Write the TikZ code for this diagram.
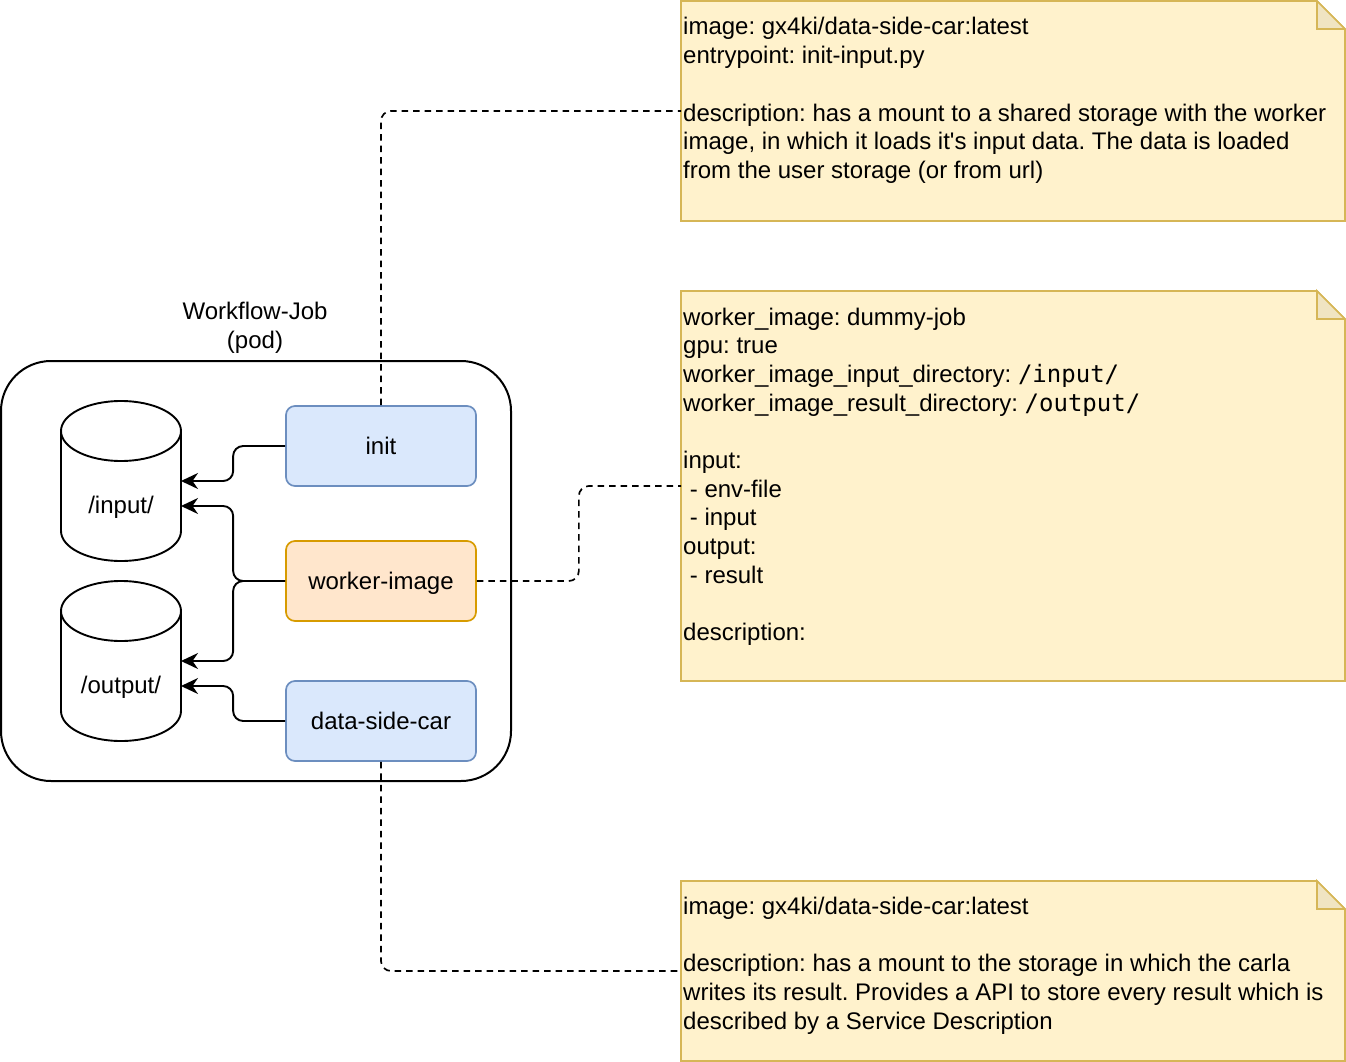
\documentclass[tikz,border=0pt]{standalone}
\usepackage{fontspec}
\setmainfont{Liberation Sans}[Ligatures=TeXOff]
\newfontfamily\codefont{DejaVu Sans Mono}
\usetikzlibrary{arrows.meta,calc}
\frenchspacing

\definecolor{blueFill}{HTML}{DAE8FC}
\definecolor{blueLine}{HTML}{6C8EBF}
\definecolor{orangeFill}{HTML}{FFE6CC}
\definecolor{orangeLine}{HTML}{D79B00}
\definecolor{noteFill}{HTML}{FFF2CC}
\definecolor{noteLine}{HTML}{D6B656}
\definecolor{noteFold}{HTML}{F0E4C2}

\tikzset{
  container/.style={draw, line width=2pt, rounded corners=50pt,
    minimum width=510pt, minimum height=420pt, inner sep=0pt},
  proc/.style={draw, line width=1.7pt, rounded corners=9pt,
    minimum width=190pt, minimum height=80pt,
    text height=22pt, text depth=6pt},
  procblue/.style={proc, fill=blueFill, draw=blueLine},
  procorange/.style={proc, fill=orangeFill, draw=orangeLine},
  area/.style={inner sep=0pt, outer sep=0pt},
  dbline/.style={draw, line width=1.9pt, fill=white},
  lbl/.style={inner sep=0pt, text height=22pt, text depth=6pt},
  notebody/.style={fill=noteFill, draw=noteLine, line width=1.7pt, line join=miter},
  notefold/.style={fill=noteFold, draw=noteLine, line width=1.7pt},
  notetext/.style={anchor=base west, inner sep=0pt},
  mount/.style={line width=1.9pt, rounded corners=10pt,
    -{Stealth[length=17pt, width=16pt, inset=5.5pt]}},
  link/.style={line width=1.7pt, rounded corners=10pt,
    dash pattern=on 6.5pt off 5pt}
}

% draws a folded note over the area of a named node
\newcommand{\drawnote}[1]{%
  \path[notebody] (#1.north west) -- ($(#1.north east)+(-28pt,0pt)$)
    -- ($(#1.north east)+(0pt,-28pt)$) -- (#1.south east)
    -- (#1.south west) -- cycle;
  \path[notefold] ($(#1.north east)+(-28pt,0pt)$)
    -- ($(#1.north east)+(-28pt,-28pt)$)
    -- ($(#1.north east)+(0pt,-28pt)$) -- cycle;
}

\begin{document}
\begin{tikzpicture}[x=1pt, y=-1pt, font=\fontsize{24}{28.7}\selectfont]
  \useasboundingbox (0,0) rectangle (1346,1062);

  % the pod
  \node[container] (pod) at (256,571) {};
  \node[anchor=base, inner sep=0pt] (podname) at (255,319.3)
    {\begin{tabular}[t]{@{}c@{}}Workflow-Job\\(pod)\end{tabular}};

  % shared volumes
  \node[area, minimum width=120pt, minimum height=160pt] (inp) at (121,481) {};
  \node[area, minimum width=120pt, minimum height=160pt] (outp) at (121,661) {};
  \foreach \v in {inp, outp} {
    \path[dbline] ($(\v.north west)+(0pt,-30pt)$)
      -- ($(\v.south west)+(0pt,30pt)$)
      arc[start angle=180, end angle=360, x radius=60pt, y radius=30pt]
      -- ($(\v.north east)+(0pt,-30pt)$);
    \draw[line width=1.9pt] ($(\v.north)+(0pt,-30pt)$)
      ellipse[x radius=60pt, y radius=30pt];
  }
  \node[lbl] (inplabel) at (121,505.5) {/input/};
  \node[lbl] (outplabel) at (121,685.5) {/output/};

  % containers of the pod
  \node[procblue] (init) at (381,446) {init};
  \node[procorange] (worker) at (381,581) {worker-image};
  \node[procblue] (sidecar) at (381,721) {data-side-car};

  % volume mounts
  \draw[mount] (init.west) -- ++(-52,0) |- (inp.east);
  \draw[mount] (worker.west) -- ++(-52,0) |- ($(inp.east)+(0,25)$);
  \draw[mount] (worker.west) -- ++(-52,0) |- (outp.east);
  \draw[mount] (sidecar.west) -- ++(-52,0) |- ($(outp.east)+(0,25)$);

  % notes
  \node[area, minimum width=664pt, minimum height=220pt] (n1) at (1013,111) {};
  \node[area, minimum width=664pt, minimum height=390pt] (n2) at (1013,486) {};
  \node[area, minimum width=664pt, minimum height=180pt] (n3) at (1013,971) {};
  \drawnote{n1}
  \drawnote{n2}
  \drawnote{n3}

  \node[notetext] (t1) at (683,35) {\begin{tabular}[t]{@{}l@{}}
    image: gx4ki/data-side-car:latest\\
    entrypoint: init-input.py\\
    \\
    description: has a mount to a shared storage with the worker\\
    image, in which it loads it's input data. The data is loaded\\
    from the user storage (or from url)
  \end{tabular}};

  \node[notetext] (t2) at (683,325) {\begin{tabular}[t]{@{}l@{}}
    worker\_image: dummy-job\\
    gpu: true\\
    worker\_image\_input\_directory: {\codefont /input/}\\
    worker\_image\_result\_directory: {\codefont /output/}\\
    \\
    input:\\
    \ - env-file\\
    \ - input\\
    output:\\
    \ - result\\
    \\
    description:
  \end{tabular}};

  \node[notetext] (t3) at (683,914.3) {\begin{tabular}[t]{@{}l@{}}
    image: gx4ki/data-side-car:latest\\
    \\
    description: has a mount to the storage in which the carla\\
    writes its result. Provides a API to store every result which is\\
    described by a Service Description
  \end{tabular}};

  % links from containers to their notes
  \draw[link] (init.north) |- (n1.west);
  \draw[link] (worker.east) -- ++(102,0) |- (n2.west);
  \draw[link] (sidecar.south) |- (n3.west);
\end{tikzpicture}
\end{document}
